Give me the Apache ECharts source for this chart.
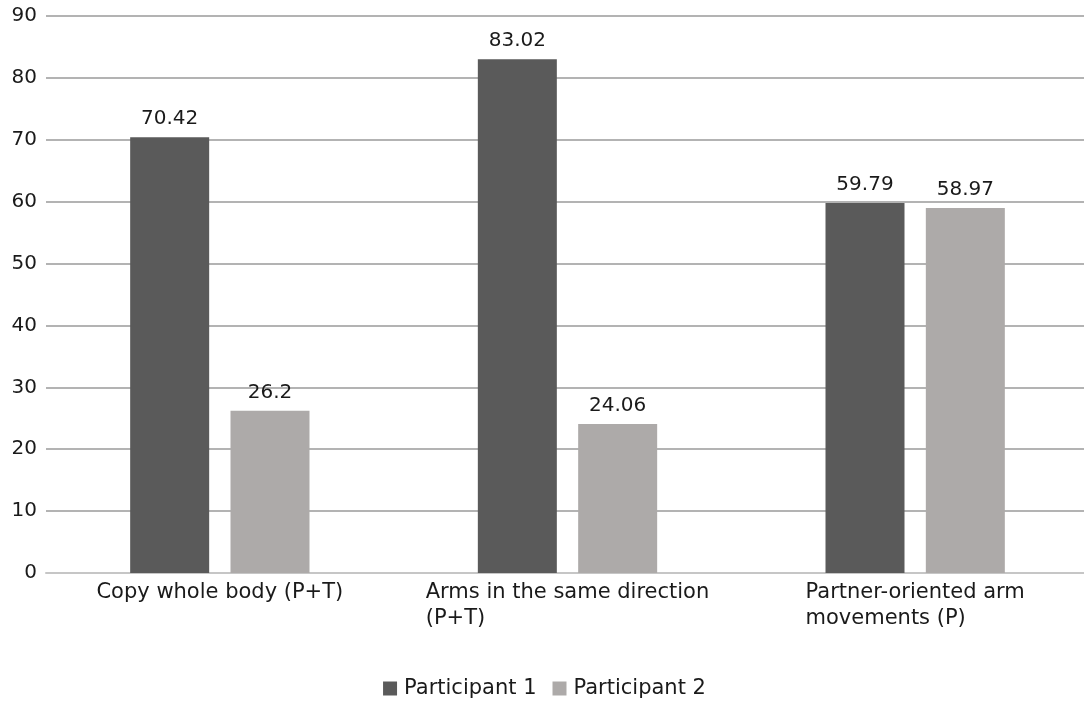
<!DOCTYPE html>
<html>
<head>
<meta charset="utf-8">
<script src="https://cdn.jsdelivr.net/npm/echarts@6/dist/echarts.min.js"></script>
<style>html,body{margin:0;padding:0;background:#fff;overflow:hidden}#c{width:1089px;height:702px}</style>
</head>
<body>
<div id="c"></div>
<script>
const categories = ['Copy whole body (P+T)', 'Arms in the same direction\n(P+T)', 'Partner-oriented arm\nmovements (P)'];
const seriesNames = ['Participant 1', 'Participant 2'];
const participant1 = [70.42, 83.02, 59.79];
const participant2 = [26.2, 24.06, 58.97];
const yTicks = [0, 10, 20, 30, 40, 50, 60, 70, 80, 90];

const FONT = 'DejaVu Sans';
const TXT = '#1a1a1a';
const chart = echarts.init(document.getElementById('c'), null, {renderer: 'canvas'});
chart.setOption({
  animation: false,
  textStyle: {fontFamily: FONT},
  grid: {left: 46, right: 0, top: 16, bottom: 129, containLabel: false},
  legend: {
    top: 673, left: 'center',
    itemWidth: 14, itemHeight: 14, itemGap: 16,
    icon: 'rect',
    textStyle: {fontFamily: FONT, fontSize: 21, color: TXT, padding: [0, 0, 0, 2]},
    data: seriesNames
  },
  xAxis: {
    type: 'category',
    data: categories,
    axisTick: {show: false},
    axisLine: {lineStyle: {color: '#c6c6c6', width: 2}},
    axisLabel: {
      fontFamily: FONT, fontSize: 21, color: TXT, margin: 7, lineHeight: 26,
      interval: 0,
      formatter: function (v) { return v.split('\n').map(function (s) { return '{l|' + s + '}'; }).join('\n'); },
      rich: {
        l: {align: 'left', fontFamily: FONT, fontSize: 21, color: TXT, lineHeight: 26}
      }
    }
  },
  yAxis: {
    type: 'value', min: yTicks[0], max: yTicks[yTicks.length - 1], interval: 10,
    axisLine: {show: false}, axisTick: {show: false},
    axisLabel: {fontFamily: FONT, fontSize: 20, color: TXT, margin: 9},
    splitLine: {lineStyle: {color: '#b3b3b3', width: 2}}
  },
  series: [
    {name: seriesNames[0], type: 'bar', data: participant1, barWidth: 79, barGap: '27%',
     itemStyle: {color: '#5a5a5a'},
     label: {show: true, position: 'top', distance: 8, fontFamily: FONT, fontSize: 20, color: TXT}},
    {name: seriesNames[1], type: 'bar', data: participant2, barWidth: 79,
     itemStyle: {color: '#adaaa9'},
     label: {show: true, position: 'top', distance: 8, fontFamily: FONT, fontSize: 20, color: TXT}}
  ]
});
</script>
</body>
</html>
